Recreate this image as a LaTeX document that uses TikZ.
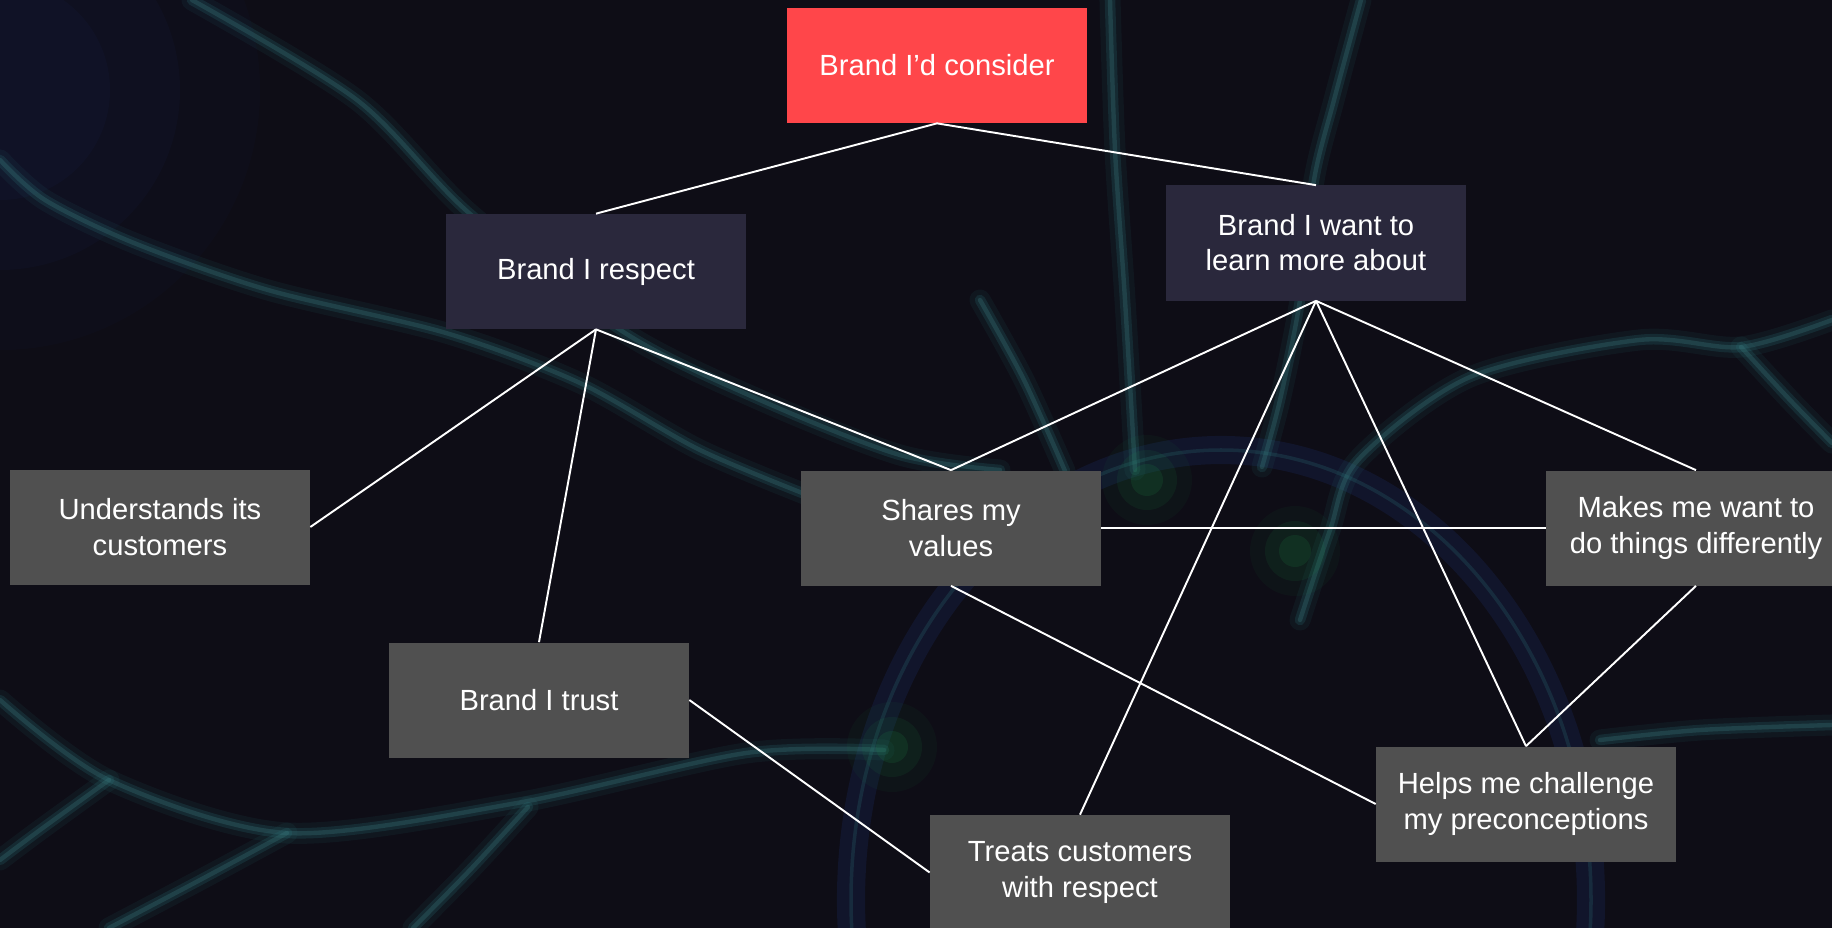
\documentclass[tikz,border=0pt]{standalone}
\usepackage{fontspec}
\setmainfont{Liberation Sans}
\usetikzlibrary{positioning}

\definecolor{bgnight}{RGB}{14,13,22}
\definecolor{plasma}{RGB}{42,112,118}
\definecolor{plasmacore}{RGB}{62,128,130}
\definecolor{globeblue}{RGB}{30,50,120}
\definecolor{glowgreen}{RGB}{30,140,70}
\definecolor{brandred}{RGB}{255,70,74}
\definecolor{brandnavy}{RGB}{42,40,60}
\definecolor{brandgrey}{RGB}{80,80,80}

\tikzstyle{box}=[rectangle, minimum width=60mm, minimum height=23mm, inner sep=0pt,
  align=center, text=white, font=\fontsize{16.6}{20}\selectfont]
\tikzstyle{redbox}=[box, fill=brandred]
\tikzstyle{navybox}=[box, fill=brandnavy]
\tikzstyle{greybox}=[box, fill=brandgrey]
\tikzstyle{lnk}=[draw=white, line width=1.1pt]
\tikzstyle{filwide}=[draw=plasma, line width=12pt, opacity=0.10, line cap=round]
\tikzstyle{filmid}=[draw=plasma, line width=6pt, opacity=0.22, line cap=round]
\tikzstyle{filcore}=[draw=plasmacore, line width=2.5pt, opacity=0.28, line cap=round]

% one glowing strand of the plasma lamp
\newcommand{\strand}[1]{%
  \draw[filwide] plot[smooth] coordinates {#1};
  \draw[filmid] plot[smooth] coordinates {#1};
  \draw[filcore] plot[smooth] coordinates {#1};}

\begin{document}
\begin{tikzpicture}[x=0.2mm, y=-0.2mm]
\useasboundingbox (0,0) rectangle (1832,928);
\clip (0,0) rectangle (1832,928);
\fill[bgnight] (0,0) rectangle (1832,928);

%lampa w tle
\foreach \r/\o in {260/0.05,180/0.07,110/0.08}
  \fill[globeblue, opacity=\o] (0,90) circle (\r);
\draw[globeblue, line width=16pt, opacity=0.22] (1221,900) ellipse (370 and 450);
\draw[plasma, line width=2pt, opacity=0.25] (1221,900) ellipse (370 and 450);

\strand{(192,0) (357,100) (469,213) (625,333) (760,400) (900,455) (1000,470)}
\strand{(0,160) (45,200) (134,243) (268,290) (446,333) (580,383) (700,450) (820,500)}
\strand{(1361,0) (1334,100) (1314,180) (1300,300) (1280,400) (1262,467)}
\strand{(1110,0) (1115,150) (1125,300) (1135,470)}
\strand{(980,300) (1024,380) (1065,471)}
\strand{(1300,620) (1330,530) (1358,460) (1470,377) (1639,340) (1741,347) (1832,320)}
\strand{(1741,347) (1790,400) (1832,443)}
\strand{(0,700) (109,780) (287,833) (517,803) (746,753) (884,750)}
\strand{(109,780) (40,830) (0,860)}
\strand{(287,833) (200,880) (109,928)}
\strand{(528,807) (470,870) (413,928)}
\strand{(1600,740) (1700,730) (1832,725)}

\foreach \gx/\gy in {1147/480, 1295/551, 892/747}
  \foreach \r/\o in {45/0.06,30/0.1,16/0.15}
    \fill[glowgreen, opacity=\o] (\gx,\gy) circle (\r);

\node (consider) [redbox] at (937,65.5) {Brand I’d consider};
\node (respect) [navybox] at (596,271.5) {Brand I respect};
\node (learn) [navybox] at (1316,243) {Brand I want to\\learn more about};
\node (understands) [greybox] at (160,527) {Understands its\\customers};
\node (trust) [greybox] at (539,700) {Brand I trust};
\node (shares) [greybox] at (951,528) {Shares my\\values};
\node (makes) [greybox] at (1696,528) {Makes me want to\\do things differently};
\node (helps) [greybox] at (1526,804) {Helps me challenge\\my preconceptions};
\node (treats) [greybox] at (1080,872.5) {Treats customers\\with respect};

\draw[lnk] (consider.south) -- (respect.north);
\draw[lnk] (consider.south) -- (learn.north);
\draw[lnk] (respect.south) -- (understands.east);
\draw[lnk] (respect.south) -- (trust.north);
\draw[lnk] (respect.south) -- (shares.north);
\draw[lnk] (learn.south) -- (shares.north);
\draw[lnk] (learn.south) -- (makes.north);
\draw[lnk] (learn.south) -- (helps.north);
\draw[lnk] (learn.south) -- (treats.north);
\draw[lnk] (shares.east) -- (makes.west);
\draw[lnk] (shares.south) -- (helps.west);
\draw[lnk] (makes.south) -- (helps.north);
\draw[lnk] (trust.east) -- (treats.west);

\end{tikzpicture}
\end{document}
